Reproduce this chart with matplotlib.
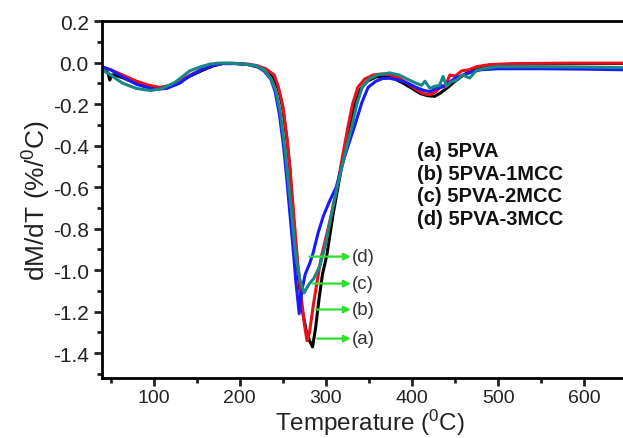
import matplotlib
matplotlib.use('Agg')
import matplotlib.pyplot as plt
from matplotlib.ticker import MultipleLocator

plt.rcParams['font.family'] = ['Liberation Sans', 'DejaVu Sans']
plt.rcParams['mathtext.default'] = 'regular'

# (a) 5PVA - black
temp_a = [40, 44, 47, 49, 51, 55, 65, 80, 95, 108, 120, 132, 145, 158, 170, 180, 195, 210,
          220, 228, 235, 240, 245, 250, 255, 258, 261, 264, 268, 272, 277, 281, 284.5, 288,
          292, 296, 301, 308, 314, 320, 327, 334, 340, 348, 358, 368, 378, 390, 400, 410,
          418, 426, 432, 440, 450, 460, 470, 480, 495, 520, 560, 600, 645]
dtg_a = [-0.03, -0.04, -0.05, -0.085, -0.06, -0.06, -0.075, -0.10, -0.118, -0.125, -0.11,
         -0.085, -0.06, -0.035, -0.015, -0.005, -0.005, -0.01, -0.02, -0.035, -0.06, -0.08,
         -0.13, -0.22, -0.38, -0.50, -0.68, -0.85, -1.03, -1.18, -1.29, -1.34, -1.37, -1.28,
         -1.14, -1.02, -0.93, -0.74, -0.60, -0.46, -0.32, -0.20, -0.13, -0.09, -0.07, -0.065,
         -0.075, -0.10, -0.125, -0.15, -0.16, -0.163, -0.15, -0.125, -0.09, -0.06, -0.035,
         -0.02, -0.012, -0.008, -0.006, -0.005, -0.005]

# (b) 5PVA-1MCC - red
temp_b = [40, 50, 64, 80, 95, 107, 120, 132, 145, 158, 170, 180, 195, 210, 220, 230, 240,
          245, 250, 255, 259, 263, 267, 271, 275, 278, 281, 285, 290, 295, 306, 313, 319,
          325.6, 331, 337, 345, 355, 365, 375, 385, 395, 405, 413, 421, 428, 434, 438, 444,
          450, 458, 466, 475, 490, 520, 580, 645]
dtg_b = [-0.025, -0.035, -0.06, -0.09, -0.11, -0.12, -0.11, -0.085, -0.055, -0.03, -0.012,
         -0.004, -0.004, -0.008, -0.015, -0.03, -0.06, -0.12, -0.21, -0.37, -0.55, -0.75,
         -0.95, -1.12, -1.26, -1.34, -1.30, -1.18, -1.05, -0.93, -0.74, -0.60, -0.46, -0.31,
         -0.20, -0.12, -0.08, -0.06, -0.055, -0.06, -0.075, -0.10, -0.13, -0.15, -0.155,
         -0.14, -0.11, -0.12, -0.06, -0.065, -0.04, -0.035, -0.02, -0.01, -0.005, -0.003,
         -0.003]

# (c) 5PVA-2MCC - teal
temp_c = [40, 50, 64, 80, 96, 110, 125, 142, 155, 165, 175, 190, 205, 218, 228, 236, 242,
          247, 252, 256, 260, 265, 270, 274.8, 280, 286, 293, 300, 305, 313, 321, 330, 336,
          342, 350, 360, 374, 385, 397, 405, 411, 415, 421, 426, 432, 436, 440, 445, 451.6,
          459, 467, 475, 485, 498, 540, 600, 645]
dtg_c = [-0.035, -0.06, -0.10, -0.125, -0.135, -0.125, -0.095, -0.04, -0.02, -0.008, -0.003,
         -0.003, -0.008, -0.015, -0.035, -0.075, -0.14, -0.24, -0.40, -0.56, -0.72, -0.93,
         -1.05, -1.11, -1.07, -1.04, -0.98, -0.87, -0.76, -0.60, -0.46, -0.31, -0.20, -0.12,
         -0.08, -0.06, -0.05, -0.06, -0.085, -0.10, -0.11, -0.09, -0.125, -0.115, -0.11,
         -0.067, -0.115, -0.095, -0.085, -0.06, -0.075, -0.037, -0.028, -0.02, -0.02, -0.022,
         -0.025]

# (d) 5PVA-3MCC - blue
temp_d = [40, 50, 64, 80, 100, 115, 130, 142, 155, 168, 180, 195, 210, 220, 228, 236, 241,
          246, 251, 255, 258, 262, 265, 269, 272, 276, 281, 285, 291, 297, 304, 312, 322,
          333, 342, 349, 358, 366, 374, 385, 395, 405, 414, 421, 428, 434, 442, 450, 460,
          470, 480, 500, 550, 600, 645]
dtg_d = [-0.02, -0.035, -0.07, -0.105, -0.13, -0.125, -0.10, -0.065, -0.035, -0.015, -0.005,
         -0.005, -0.01, -0.02, -0.04, -0.08, -0.14, -0.25, -0.41, -0.58, -0.72, -0.90, -1.05,
         -1.21, -1.10, -1.02, -0.97, -0.92, -0.82, -0.74, -0.67, -0.60, -0.45, -0.31, -0.19,
         -0.12, -0.09, -0.077, -0.076, -0.085, -0.10, -0.12, -0.135, -0.14, -0.125, -0.12,
         -0.10, -0.075, -0.06, -0.045, -0.035, -0.03, -0.03, -0.032, -0.035]

legend_lines = ['(a) 5PVA', '(b) 5PVA-1MCC', '(c) 5PVA-2MCC', '(d) 5PVA-3MCC']
tags = ['(a)', '(b)', '(c)', '(d)']
tag_y = [-1.33, -1.19, -1.065, -0.935]
arrow_start = [290, 288, 285, 281]

fig = plt.figure(figsize=(6.23, 4.39), dpi=100)
ax = fig.add_axes([102 / 623, 1 - 379 / 439, 1 - 102 / 623, (379 - 22) / 439])

ax.plot(temp_a, dtg_a, color='black', lw=2.2)
ax.plot(temp_b, dtg_b, color='#e8101a', lw=2.2)
ax.plot(temp_d, dtg_d, color='#1a1aff', lw=2.2)
ax.plot(temp_c, dtg_c, color='#178888', lw=2.2)

for t, y, x0 in zip(tags, tag_y, arrow_start):
    ax.annotate('', xy=(329, y), xytext=(x0, y),
                arrowprops=dict(arrowstyle='-|>', color='#2ee02e', lw=1.6,
                                mutation_scale=10, shrinkA=0, shrinkB=0))
    ax.text(330, y, t, fontsize=13.5, color='#333333', va='center', ha='left')

for i, line in enumerate(legend_lines):
    ax.text(406, -0.425 - 0.109 * i, line, fontsize=14.5, fontweight='bold',
            color='#111111', va='center', ha='left')

ax.set_xlim(40, 645)
ax.set_ylim(-1.52, 0.2)
ax.xaxis.set_major_locator(MultipleLocator(100))
ax.xaxis.set_minor_locator(MultipleLocator(50))
ax.yaxis.set_major_locator(MultipleLocator(0.2))
ax.yaxis.set_minor_locator(MultipleLocator(0.1))
ax.yaxis.set_major_formatter(plt.FuncFormatter(lambda v, p: '%.1f' % v))

ax.spines['right'].set_visible(False)
for s in ['left', 'bottom', 'top']:
    ax.spines[s].set_linewidth(2)
ax.tick_params(which='both', direction='out', width=2, top=False, right=False,
               labelsize=15, colors='#222222')
ax.tick_params(axis='x', labelsize=14, pad=2)
ax.tick_params(which='major', length=6)
ax.tick_params(which='minor', length=3.5)

ax.set_xlabel('Temperature ($^{0}$C)', fontsize=17.5, color='#222222', va='bottom')
ax.xaxis.set_label_coords(370 / 623, 1 / 439, transform=fig.transFigure)
ax.set_ylabel('dM/dT (%/$^{0}$C)', fontsize=19, labelpad=0, color='#222222')

plt.savefig('out.png', dpi=100)
